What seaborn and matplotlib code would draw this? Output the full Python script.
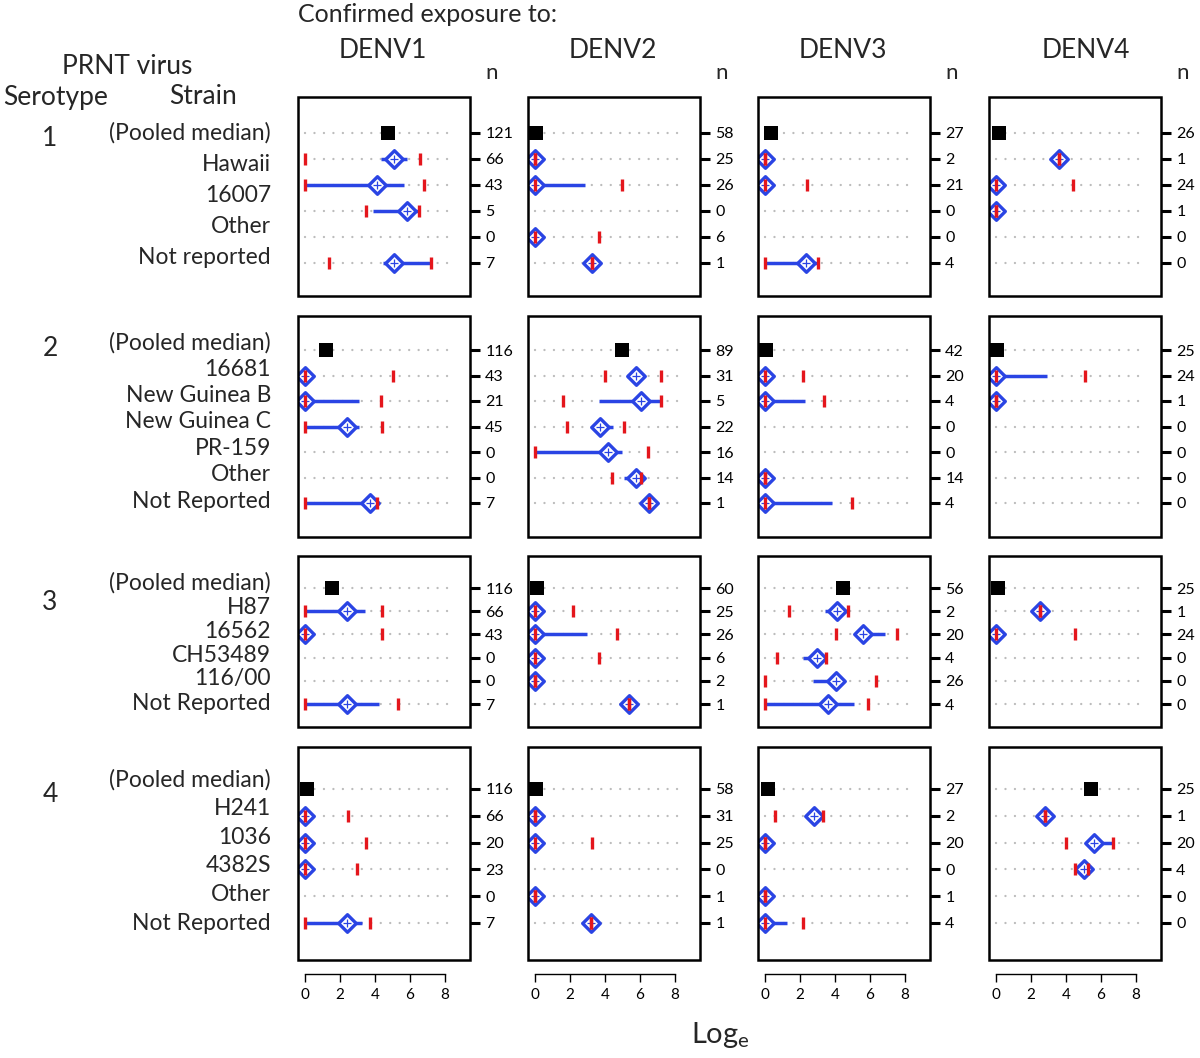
"""
PRNT titres by serotype / strain, split by confirmed exposure (DENV1-4).
Panel grid redrawn with seaborn + matplotlib, saved to out.png
"""
import pandas as pd
import matplotlib
matplotlib.use("Agg")
import matplotlib.pyplot as plt
from matplotlib.patches import Rectangle
import seaborn as sns

sns.set_theme(style="white")
plt.rcParams["font.family"] = ["Lato", "DejaVu Sans"]

W, H = 1200, 1058
BLUE = "#2a44e4"
RED = "#e4161c"

exposures = ["DENV1", "DENV2", "DENV3", "DENV4"]
serotypes = ["1", "2", "3", "4"]

strains_s1 = ["(Pooled median)", "Hawaii", "16007", "Other", "Not reported"]
strains_s2 = ["(Pooled median)", "16681", "New Guinea B", "New Guinea C", "PR-159", "Other", "Not Reported"]
strains_s3 = ["(Pooled median)", "H87", "16562", "CH53489", "116/00", "Not Reported"]
strains_s4 = ["(Pooled median)", "H241", "1036", "4382S", "Other", "Not Reported"]

N = None

# ---------- serotype 1 ----------
n_s1 = [[121, 66, 43, 5, 0, 7], [58, 25, 26, 0, 6, 1], [27, 2, 21, 0, 0, 4], [26, 1, 24, 1, 0, 0]]
pooled_s1 = [4.75, 0.05, 0.34, 0.19]
med_s1 = [[5.1, 4.1, 5.85, N, 5.1], [0, 0, N, 0, 3.24], [0, 0, N, N, 2.32], [3.62, 0, 0, N, N]]
blo_s1 = [[4.32, 0, 3.87, N, 4.44], [0, 0, N, 0, 3.24], [0, 0, N, N, 0], [3.62, 0, 0, N, N]]
bhi_s1 = [[5.85, 5.68, 6.48, N, 7.14], [0, 2.86, N, 0, 3.24], [0, 0, N, N, 3.05], [3.62, 0, 0, N, N]]
rlo_s1 = [[0, 0, 3.49, N, 1.39], [0, 0, N, 0, 3.24], [0, 0, N, N, 0], [3.62, 0, 0, N, N]]
rhi_s1 = [[6.57, 6.78, 6.53, N, 7.18], [0, 4.95, N, 3.68, 3.24], [0, 2.42, N, N, 3.05], [3.62, 4.38, 0, N, N]]

# ---------- serotype 2 ----------
n_s2 = [[116, 43, 21, 45, 0, 0, 7], [89, 31, 5, 22, 16, 14, 1], [42, 20, 4, 0, 0, 14, 4], [25, 24, 1, 0, 0, 0, 0]]
pooled_s2 = [1.18, 5.0, 0.03, 0.03]
med_s2 = [[0, 0, 2.42, N, N, 3.71], [5.77, 6.04, 3.71, 4.15, 5.77, 6.53], [0, 0, N, N, 0, 0], [0, 0, N, N, N, N]]
blo_s2 = [[0, 0, 0, N, N, 0], [5.28, 3.68, 3.49, 0, 5.09, 6.53], [0, 0, N, N, 0, 0], [0, 0, N, N, N, N]]
bhi_s2 = [[0, 3.09, 3.09, N, N, 4.13], [6.23, 7.18, 4.48, 5.0, 6.1, 6.53], [0, 2.29, N, N, 0, 3.81], [2.91, 0, N, N, N, N]]
rlo_s2 = [[0, 0, 0, N, N, 0], [4.0, 1.62, 1.85, 0, 4.42, 6.53], [0, 0, N, N, 0, 0], [0, 0, N, N, N, N]]
rhi_s2 = [[5.05, 4.32, 4.4, N, N, 4.13], [7.2, 7.18, 5.09, 6.48, 6.06, 6.53], [2.19, 3.37, N, N, 0, 4.95], [5.07, 0, N, N, N, N]]

# ---------- serotype 3 ----------
n_s3 = [[116, 66, 43, 0, 0, 7], [60, 25, 26, 6, 2, 1], [56, 2, 20, 4, 26, 4], [25, 1, 24, 0, 0, 0]]
pooled_s3 = [1.52, 0.1, 4.48, 0.13]
med_s3 = [[2.42, 0, N, N, 2.42], [0, 0, 0, 0, 5.37], [4.13, 5.62, 2.95, 4.06, 3.62], [2.51, 0, N, N, N]]
blo_s3 = [[0, 0, N, N, 0], [0, 0, 0, 0, 5.37], [3.43, 5.24, 2.19, 2.72, 0], [2.51, 0, N, N, N]]
bhi_s3 = [[3.43, 0, N, N, 4.25], [0, 2.95, 0, 0, 5.37], [4.76, 6.86, 3.49, 4.29, 5.09], [2.51, 0, N, N, N]]
rlo_s3 = [[0, 0, N, N, 0], [0, 0, 0, 0, 5.37], [1.39, 4.04, 0.67, 0, 0], [2.51, 0, N, N, N]]
rhi_s3 = [[4.38, 4.38, N, N, 5.3], [2.19, 4.67, 3.68, 0, 5.37], [4.76, 7.56, 3.49, 6.34, 5.9], [2.51, 4.53, N, N, N]]

# ---------- serotype 4 ----------
n_s4 = [[116, 66, 20, 23, 0, 7], [58, 31, 25, 0, 1, 1], [27, 2, 20, 0, 1, 4], [25, 1, 20, 4, 0, 0]]
pooled_s4 = [0.1, 0.05, 0.2, 5.43]
med_s4 = [[0, 0, 0, N, 2.4], [0, 0, N, 0, 3.2], [2.8, 0, N, 0, 0], [2.8, 5.6, 5.03, N, N]]
blo_s4 = [[0, 0, 0, N, 0], [0, 0, N, 0, 3.2], [2.4, 0, N, 0, 0], [2.8, 5.31, 4.7, N, N]]
bhi_s4 = [[0, 0, 0, N, 3.26], [0, 0, N, 0, 3.2], [3.3, 0, N, 0, 1.26], [2.8, 6.69, 5.25, N, N]]
rlo_s4 = [[0, 0, 0, N, 0], [0, 0, N, 0, 3.2], [0.6, 0, N, 0, 0], [2.8, 4.0, 4.5, N, N]]
rhi_s4 = [[2.45, 3.5, 3.0, N, 3.7], [0, 3.26, N, 0, 3.2], [3.3, 0, N, 0, 2.17], [2.8, 6.69, 5.25, N, N]]

blocks = [
    (strains_s1, n_s1, pooled_s1, med_s1, blo_s1, bhi_s1, rlo_s1, rhi_s1),
    (strains_s2, n_s2, pooled_s2, med_s2, blo_s2, bhi_s2, rlo_s2, rhi_s2),
    (strains_s3, n_s3, pooled_s3, med_s3, blo_s3, bhi_s3, rlo_s3, rhi_s3),
    (strains_s4, n_s4, pooled_s4, med_s4, blo_s4, bhi_s4, rlo_s4, rhi_s4),
]

# long table: one record per (serotype, exposure, row)
recs = []
for s, (strains, n, pooled, med, blo, bhi, rlo, rhi) in enumerate(blocks):
    for e in range(4):
        recs.append(dict(sero=s, exp=e, row=0, kind="pooled", med=pooled[e],
                         blo=None, bhi=None, rlo=None, rhi=None))
        for i, m in enumerate(med[e]):
            if m is None:
                continue
            recs.append(dict(sero=s, exp=e, row=i + 1, kind="strain", med=m,
                             blo=blo[e][i], bhi=bhi[e][i], rlo=rlo[e][i], rhi=rhi[e][i]))
df = pd.DataFrame(recs)

# ---------- layout (pixel boxes of the panels) ----------
col_left = [298, 528, 758, 989]
col_w = 172
row_box = [(97, 296), (316, 537), (556, 727), (747, 960)]
row_first = [133, 350, 588, 789]   # y of first / last data row
row_last = [263, 503, 704, 923]
label_first = [133, 343, 583, 780]  # strain text positions in the source
label_last = [258, 501, 703, 923]
sero_y = [138, 348, 602, 795]


def fx(x):
    return x / W


def fy(y):
    return 1 - y / H


fig = plt.figure(figsize=(W / 100, H / 100), dpi=100)

for s in range(4):
    top, bot = row_box[s]
    k = len(blocks[s][1][0])
    step = (row_last[s] - row_first[s]) / (k - 1)
    for e in range(4):
        ax = fig.add_axes([fx(col_left[e]), fy(bot), col_w / W, (bot - top) / H])
        sub = df[(df.sero == s) & (df.exp == e)]
        strains_rows = sub[sub.kind == "strain"]

        for i in range(k):
            ax.plot([0, 8.6], [i, i], color="#bcbcbc", lw=1.7, ls=(0, (0.01, 4.0)),
                    dash_capstyle="round", zorder=1)

        ax.hlines(strains_rows["row"], strains_rows["blo"], strains_rows["bhi"],
                  color=BLUE, lw=2.5, zorder=2)
        sns.scatterplot(data=sub[sub.kind == "pooled"], x="med", y="row", marker="s",
                        s=95, color="black", edgecolor="black", linewidth=0, ax=ax, zorder=3)
        sns.scatterplot(data=strains_rows, x="med", y="row", marker="D", s=80,
                        facecolor="white", edgecolor=BLUE, linewidth=2.4, ax=ax, zorder=3)
        sns.scatterplot(data=strains_rows, x="med", y="row", marker="+", s=28,
                        color=BLUE, linewidth=0.9, ax=ax, zorder=4)
        for col in ["rlo", "rhi"]:
            ax.plot(strains_rows[col], strains_rows["row"], ls="none", marker="|",
                    ms=8.5, mew=2.4, color=RED, zorder=5)

        ax.set_xlim(-0.4, 9.43)
        ax.set_ylim((k - 1) + (bot - row_last[s]) / step, -(row_first[s] - top) / step)
        ax.set_xlabel("")
        ax.set_ylabel("")

        # frame drawn as a patch so the bottom axis can be detached
        for sp in ax.spines.values():
            sp.set_visible(False)
        ax.add_patch(Rectangle((0, 0), 1, 1, transform=ax.transAxes, fill=False,
                               lw=1.8, ec="black", clip_on=False, zorder=6))

        ax.yaxis.tick_right()
        ax.set_yticks(range(k))
        ax.set_yticklabels([str(v) for v in blocks[s][1][e]])
        ax.tick_params(axis="y", which="both", right=True, left=False, length=7,
                       width=2.2, labelsize=11.5, pad=4, colors="black")

        if s == 3:
            ax.spines["bottom"].set_visible(True)
            ax.spines["bottom"].set_position(("outward", 10))
            ax.spines["bottom"].set_bounds(0, 8)
            ax.spines["bottom"].set_linewidth(1)
            ax.spines["bottom"].set_color("black")
            ax.set_xticks([0, 2, 4, 6, 8])
            ax.tick_params(axis="x", bottom=True, length=6, width=1, labelsize=11,
                           pad=4, colors="black")
        else:
            ax.set_xticks([])
        ax.grid(False)

    # strain labels and serotype number
    strains = blocks[s][0]
    nl = len(strains)
    for j, lab in enumerate(strains):
        y = label_first[s] + j * (label_last[s] - label_first[s]) / (nl - 1)
        fig.text(fx(271), fy(y), lab, ha="right", va="center", fontsize=16.5)
    fig.text(fx(50), fy(sero_y[s]), serotypes[s], ha="center", va="center", fontsize=19)

# ---------- headers ----------
fig.text(fx(298), fy(14), "Confirmed exposure to:", ha="left", va="center", fontsize=18)
for e, name in enumerate(exposures):
    fig.text(fx([383, 613, 843, 1086][e]), fy(50), name, ha="center", va="center", fontsize=19)
    fig.text(fx(col_left[e] + col_w + 22), fy(73), "n", ha="center", va="center", fontsize=16)
fig.text(fx(127), fy(66), "PRNT virus", ha="center", va="center", fontsize=19)
fig.text(fx(56), fy(97), "Serotype", ha="center", va="center", fontsize=19)
fig.text(fx(203), fy(97), "Strain", ha="center", va="center", fontsize=19)
fig.text(fx(720), fy(1035), r"Log$_\mathregular{e}$", ha="center", va="center", fontsize=21)

fig.savefig("out.png", dpi=100)
